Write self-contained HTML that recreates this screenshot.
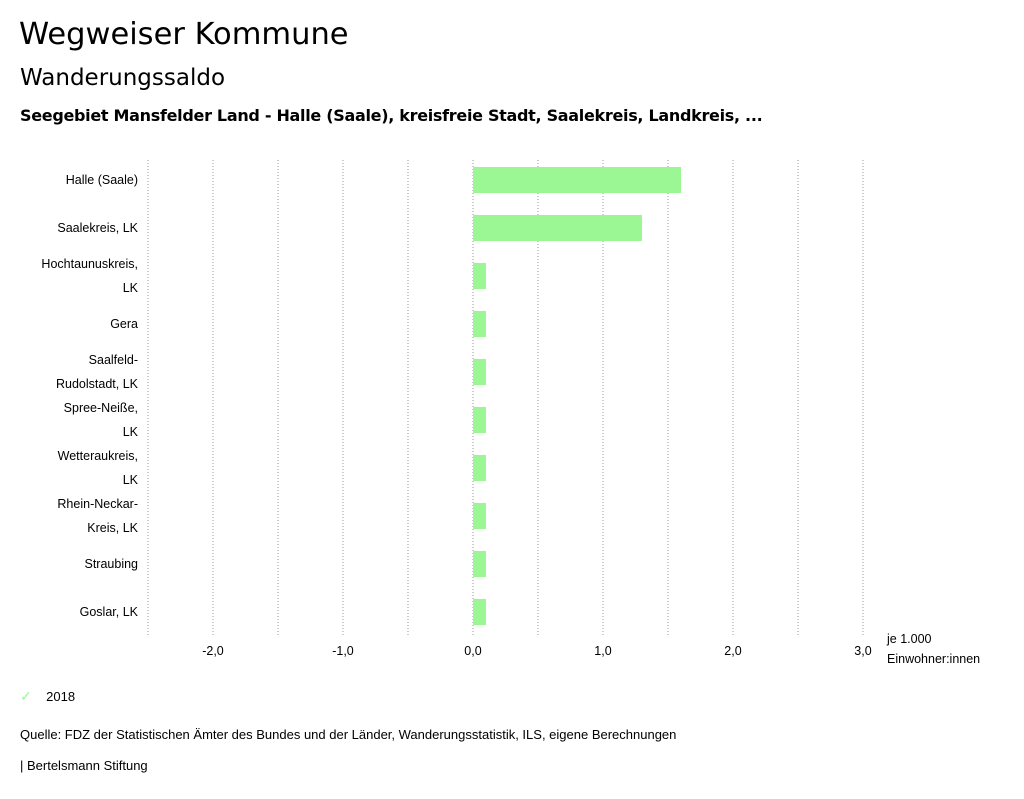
<!DOCTYPE html>
<html><head><meta charset="utf-8"><style>
body{margin:0;width:1024px;height:799px;background:#fff;font-family:"Liberation Sans",sans-serif;color:#000;overflow:hidden;position:relative}
.t{position:absolute;white-space:nowrap}
.h{font-family:"DejaVu Sans","Liberation Sans",sans-serif}
</style></head><body>
<div class="t h" style="left:19px;top:17px;font-size:30.5px">Wegweiser Kommune</div>
<div class="t h" style="left:20px;top:65px;font-size:23px">Wanderungssaldo</div>
<div class="t h" style="left:20px;top:106px;font-size:16px;font-weight:bold;letter-spacing:-0.3px">Seegebiet Mansfelder Land - Halle (Saale), kreisfreie Stadt, Saalekreis, Landkreis, ...</div>
<svg id="chart" width="1024" height="799" style="position:absolute;left:0;top:0" font-family="Liberation Sans, sans-serif" font-size="12.5"></svg>
<div class="t" style="left:20px;top:688px;font-size:13px"><span style="color:#9af794;font-size:14px">✓</span>&nbsp;&nbsp;&nbsp;&nbsp;2018</div>
<div class="t" style="left:20px;top:727px;font-size:13px">Quelle: FDZ der Statistischen Ämter des Bundes und der Länder, Wanderungsstatistik, ILS, eigene Berechnungen</div>
<div class="t" style="left:20px;top:758px;font-size:13px">| Bertelsmann Stiftung</div>
<script>
const categories=[["Halle (Saale)"],["Saalekreis, LK"],["Hochtaunuskreis,","LK"],["Gera"],["Saalfeld-","Rudolstadt, LK"],["Spree-Neiße,","LK"],["Wetteraukreis,","LK"],["Rhein-Neckar-","Kreis, LK"],["Straubing"],["Goslar, LK"]];
const values=[1.6,1.3,0.1,0.1,0.1,0.1,0.1,0.1,0.1,0.1];
const ticks=[-2,-1,0,1,2,3];
const tickLabels=["-2,0","-1,0","0,0","1,0","2,0","3,0"];
const gridVals=[-2.5,-2,-1.5,-1,-0.5,0,0.5,1,1.5,2,2.5,3];
const svg=document.getElementById('chart');
const NS='http://www.w3.org/2000/svg';
const x=v=>473+v*130;
const top0=156,band=48;
const y=i=>top0+i*band;
function mk(tag,attrs){const e=document.createElementNS(NS,tag);for(const k in attrs)e.setAttribute(k,attrs[k]);svg.appendChild(e);return e;}
gridVals.forEach(g=>{const l=mk('line',{x1:x(g),x2:x(g),y1:160,y2:636,stroke:'#999','stroke-dasharray':'1,2'});

});
ticks.forEach((t,i)=>{const e=mk('text',{x:x(t),y:655,'text-anchor':'middle'});e.textContent=tickLabels[i];

});
values.forEach((v,i)=>{const x0=Math.min(x(0),x(v));const r=mk('rect',{x:x0,y:y(i)+11,width:Math.abs(x(v)-x(0)),height:26,fill:'#9af794'});


const lines=categories[i];const cy=y(i)+24;
lines.forEach((s,j)=>{const t=mk('text',{x:138,y:cy+4+(j-(lines.length-1)/2)*24,'text-anchor':'end'});t.textContent=s;

});});
const u1=mk('text',{x:887,y:643});u1.textContent='je 1.000';


const u2=mk('text',{x:887,y:663});u2.textContent='Einwohner:innen';


</script>
</body></html>
